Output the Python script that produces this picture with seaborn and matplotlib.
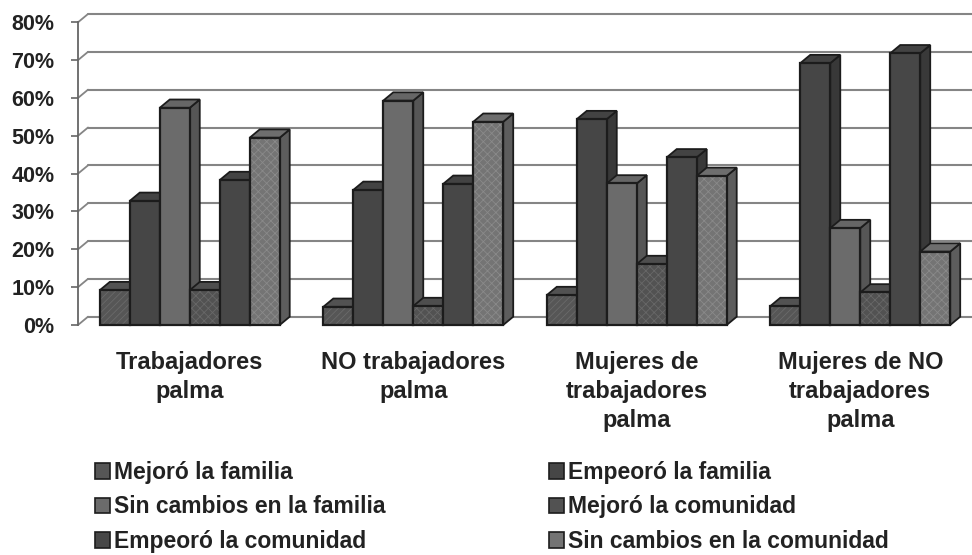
import numpy as np
import pandas as pd
import matplotlib.pyplot as plt
import seaborn as sns
from matplotlib.patches import Polygon, Rectangle, Patch
from matplotlib.ticker import PercentFormatter
from matplotlib.colors import to_rgb

# Datos (%)
grupos = ['Trabajadores\npalma', 'NO trabajadores\npalma',
          'Mujeres de\ntrabajadores\npalma', 'Mujeres de NO\ntrabajadores\npalma']
series = ['Mejoró la familia', 'Empeoró la familia', 'Sin cambios en la familia',
          'Mejoró la comunidad', 'Empeoró la comunidad', 'Sin cambios en la comunidad']

mejoro_familia = [9.2, 4.8, 7.9, 5.0]
empeoro_familia = [32.8, 35.7, 54.4, 69.2]
sin_cambios_familia = [57.4, 59.3, 37.4, 25.6]
mejoro_comunidad = [9.2, 5.0, 16.1, 8.6]
empeoro_comunidad = [38.3, 37.3, 44.3, 71.8]
sin_cambios_comunidad = [49.5, 53.7, 39.4, 19.4]

colores = ['#565656', '#464646', '#6b6b6b', '#525252', '#474747', '#747474']
colores_textura = ['#6a6a6a', '#464646', '#6b6b6b', '#686868', '#474747', '#8a8a8a']
texturas = ['/////', '', '', 'xxxx', '', 'xxxx']

valores = [mejoro_familia, empeoro_familia, sin_cambios_familia,
           mejoro_comunidad, empeoro_comunidad, sin_cambios_comunidad]
df = pd.DataFrame({
    'grupo': [g for _ in series for g in grupos],
    'serie': [s for s in series for _ in grupos],
    'valor': [v for vals in valores for v in vals],
})

sns.set_theme(style='white')
plt.rcParams['font.family'] = ['Liberation Sans', 'DejaVu Sans']
plt.rcParams['font.weight'] = 'bold'
plt.rcParams['hatch.linewidth'] = 0.6

W, H = 972, 555
fig = plt.figure(figsize=(W / 100, H / 100), dpi=100)
ax_w, ax_h = 894, 302.7
ax = fig.add_axes([78 / W, (H - 325) / H, ax_w / W, ax_h / H])

sns.barplot(data=df, x='grupo', y='valor', hue='serie', order=grupos, hue_order=series,
            palette=colores, saturation=1, width=0.805, legend=False, ax=ax,
            err_kws={'linewidth': 0})

ax.set_xlim(-0.5, 3.5)
ax.set_ylim(0, 80)

# profundidad 3D en unidades de datos
dx = 10 / (ax_w / 4)
dy = 8.3 / (ax_h / 80)

# pared del fondo: rejilla desplazada
for t in range(0, 81, 10):
    ax.plot([-0.5 + dx, 3.5 + dx + 1], [t + dy, t + dy], color='#858585', lw=1.5,
            clip_on=False, zorder=0.5)
    ax.plot([-0.5, -0.5 + dx], [t, t + dy], color='#858585', lw=1.3,
            clip_on=False, zorder=0.5)

def oscuro(c, f):
    r, g, b = to_rgb(c)
    return (r * f, g * f, b * f)

borde = '#1c1c1c'
for i, cont in enumerate(ax.containers):
    for p in cont.patches:
        x0, w, h = p.get_x(), p.get_width(), p.get_height()
        z = 2 + (x0 + 0.5)
        lado = Polygon([(x0 + w, 0), (x0 + w + dx, dy), (x0 + w + dx, h + dy), (x0 + w, h)],
                       closed=True, facecolor=oscuro(colores[i], 0.8), edgecolor=borde,
                       lw=1.3, zorder=z, clip_on=False, joinstyle='miter')
        tapa = Polygon([(x0, h), (x0 + w, h), (x0 + w + dx, h + dy), (x0 + dx, h + dy)],
                       closed=True, facecolor=oscuro(colores[i], 0.95), edgecolor=borde,
                       lw=1.3, zorder=z + 0.001, clip_on=False, joinstyle='miter')
        ax.add_patch(lado)
        ax.add_patch(tapa)
        p.set_zorder(z + 0.002)
        p.set_hatch(texturas[i])
        p.set_edgecolor(colores_textura[i])
        p.set_linewidth(0)
        ax.add_patch(Rectangle((x0, 0), w, h, fill=False, edgecolor=borde, lw=1.6,
                               zorder=z + 0.003, clip_on=False, joinstyle='miter'))

# ejes
for s in ['top', 'right', 'bottom']:
    ax.spines[s].set_visible(False)
ax.spines['left'].set_color('#666666')
ax.spines['left'].set_linewidth(1.3)
ax.yaxis.set_major_formatter(PercentFormatter(100, decimals=0))
ax.set_yticks(range(0, 81, 10))
ax.tick_params(axis='y', left=True, direction='out', length=5, width=1.2,
               color='#666666', pad=12, labelsize=15.5, labelcolor='#222222')
ax.tick_params(axis='x', bottom=False, pad=12.5, labelsize=17, labelcolor='#222222')
for lab in ax.get_xticklabels():
    lab.set_linespacing(1.35)
ax.set_xlabel('')
ax.set_ylabel('')

# leyenda: orden por filas
handles = [Patch(facecolor=colores[i], edgecolor=borde, lw=1.2) for i in range(6)]
orden = [0, 2, 4, 1, 3, 5]
fig.legend([handles[i] for i in orden], [series[i] for i in orden], ncol=2,
           loc='upper left', bbox_to_anchor=(95 / W, 1 - 461 / H), frameon=False,
           prop={'size': 16.5, 'weight': 'bold'}, handlelength=0.65, handleheight=0.65,
           handletextpad=0.2, columnspacing=7.1, labelspacing=0.5,
           borderpad=0, borderaxespad=0, labelcolor='#222222')

fig.savefig('out.png', dpi=100)
